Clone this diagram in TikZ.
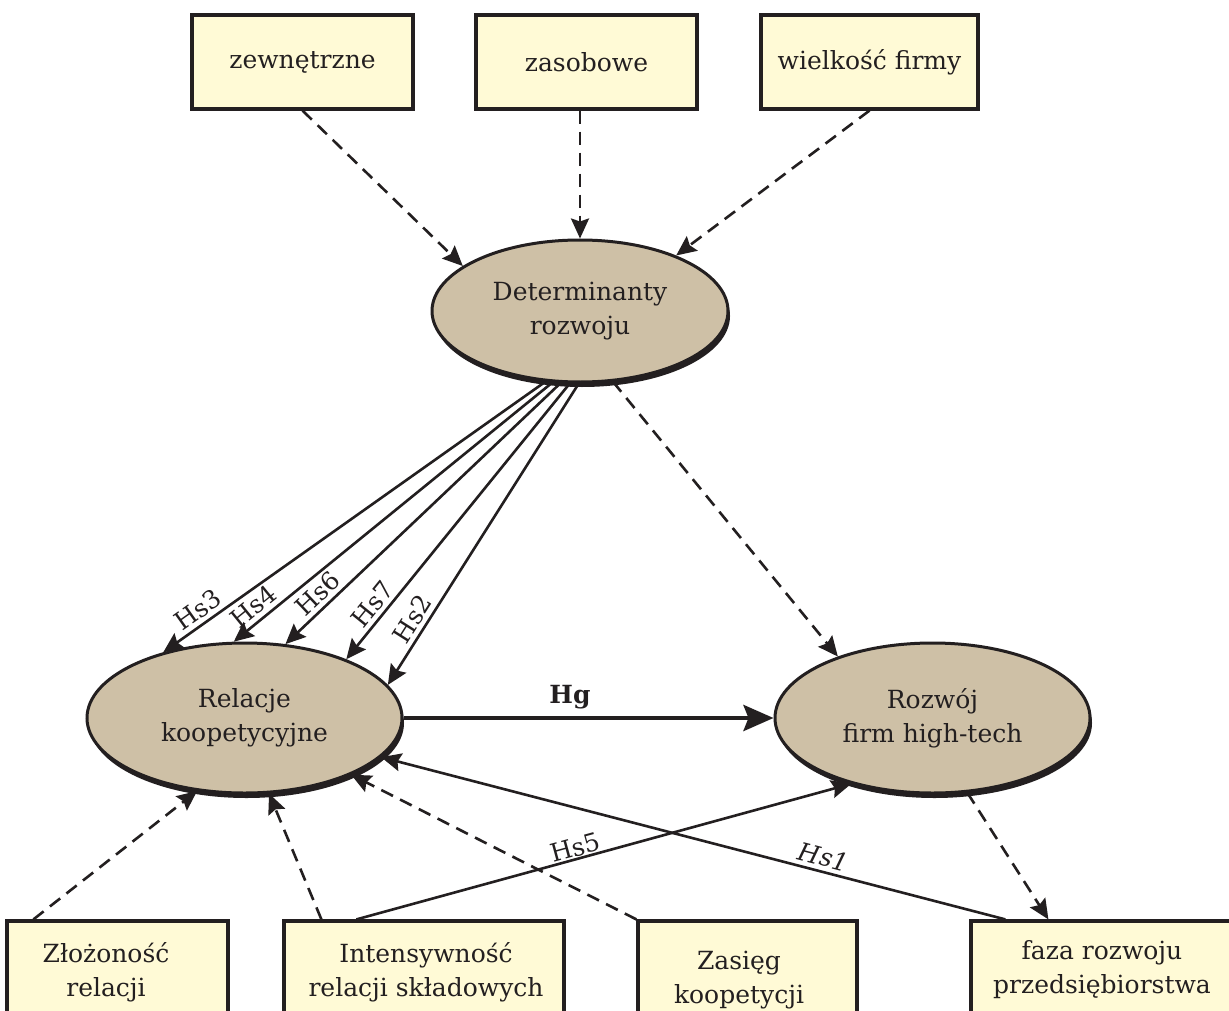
\documentclass[tikz,border=0pt]{standalone}
\usepackage{fontspec}
\setmainfont{DejaVu Serif}
\usetikzlibrary{arrows.meta,shapes.geometric,shadows,calc}
\definecolor{inkc}{RGB}{35,31,32}
\definecolor{boxfill}{RGB}{255,250,214}
\definecolor{ovalfill}{RGB}{206,192,166}
\begin{document}
\begin{tikzpicture}[x=0.5pt,y=-0.5pt,
  every node/.style={font=\fontsize{12.5}{17}\selectfont, text=inkc},
  factor/.style={rectangle, draw=inkc, line width=1.6pt, fill=boxfill, inner sep=0pt, minimum height=47pt},
  lowbox/.style={rectangle, draw=inkc, line width=1.6pt, fill=boxfill, inner sep=0pt, minimum height=55pt},
  construct/.style={ellipse, draw=inkc, line width=1.5pt, fill=ovalfill, inner sep=0pt, align=center,
    drop shadow={opacity=1, fill=inkc, shadow xshift=1pt, shadow yshift=-2.5pt}},
  link/.style={draw=inkc, line width=1.3pt, -{Stealth[length=10pt,width=9pt,inset=1.5pt]}},
  dashedlink/.style={link, dash pattern=on 6.5pt off 4pt},
  mainlink/.style={draw=inkc, line width=2.2pt, -{Stealth[length=15pt,width=13pt,inset=2.5pt]}},
  hyp/.style={sloped, above, inner sep=2pt}
]
\useasboundingbox (0,0) rectangle (1229,1010);
\clip (0,0) rectangle (1229,1010);
\fill[white] (0,0) rectangle (1229,1010);

% upper factor boxes
\node[factor, minimum width=110.5pt] (zew) at (302.5,62) {zewnętrzne};
\node[factor, minimum width=110.5pt] (zas) at (586.5,62) {zasobowe};
\node[factor, minimum width=108.5pt] (wiel) at (869.5,62) {wielkość firmy};

% constructs
\node[construct, minimum width=148pt, minimum height=71pt] (det) at (580,311) {Determinanty\\rozwoju};
\node[construct, minimum width=157.5pt, minimum height=75pt] (rel) at (244.5,718) {Relacje\\koopetycyjne};
\node[construct, minimum width=157.5pt, minimum height=75pt] (roz) at (932.5,718) {Rozwój\\firm high-tech};

% lower boxes, running past the bottom edge
\node[lowbox, minimum width=110.5pt] (zlo) at (117.5,976) {};
\node[lowbox, minimum width=140pt] (int) at (424,976) {};
\node[lowbox, minimum width=109.5pt] (zak) at (747.5,976) {};
\node[lowbox, minimum width=131pt] (faz) at (1102,976) {};
\node[align=center] (zlotxt) at (106,972) {Złożoność\\relacji};
\node[align=center] (inttxt) at (426,972) {Intensywność\\relacji składowych};
\node[align=center] (zaktxt) at (739,980) {Zasięg\\koopetycji};
\node[align=center] (faztxt) at (1102,970) {faza rozwoju\\przedsiębiorstwa};

% determinants of development
\draw[dashedlink] (zew.south) -- (det.159);
\draw[dashedlink] (zas.south -| det.north) -- (det.north);
\draw[dashedlink] (wiel.south) -- (det.30);

% specific hypotheses
\draw[link] (det.-116.9) -- node[hyp, pos=0.888] {Hs3} (rel.141.6);
\draw[link] (det.-111.1) -- node[hyp, pos=0.908] {Hs4} (rel.98.7);
\draw[link] (det.-105.1) -- node[hyp, pos=0.846] {Hs6} (rel.61);
\draw[link] (det.-98.8) -- node[hyp, pos=0.833] {Hs7} (rel.30.3);
\draw[link] (det.-91.6) -- node[hyp, pos=0.807] {Hs2} (rel.13.3);
\draw[dashedlink] (det.-65) -- (roz.147.9);

% general hypothesis
\draw[mainlink] (rel.east) -- node[above, pos=0.45] {\textbf{Hg}} (roz.west);

% lower links
\draw[dashedlink] ($(zlo.north west)+(28,0)$) -- (rel.-123.4);
\draw[dashedlink] ($(int.north west)+(39,0)$) -- (rel.-72.4);
\draw[link] ($(int.north west)+(74,0)$) -- node[sloped, above, inner sep=0.5pt, pos=0.448] {Hs5} (roz.-141.2);
\draw[dashedlink] (zak.north west) -- (rel.-28.4);
\draw[link] ($(faz.north west)+(36,0)$) -- node[hyp, pos=0.297] {\itshape Hs1} (rel.-16.2);
\draw[dashedlink] (roz.-65) -- ($(faz.north west)+(79,0)$);
\end{tikzpicture}
\end{document}
